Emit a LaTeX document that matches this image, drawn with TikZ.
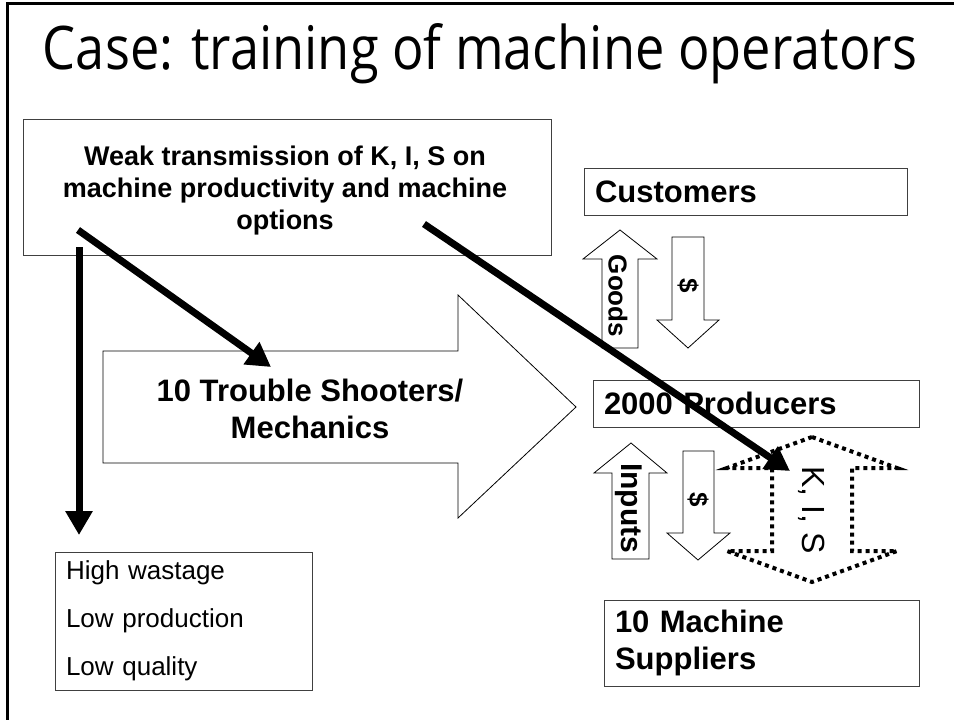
\documentclass[tikz,border=0pt]{standalone}
\usepackage{fontspec}
\setmainfont{Liberation Sans}
\newfontfamily\titlefont{Open Sans}
\usetikzlibrary{arrows.meta}
\begin{document}
\begin{tikzpicture}[x=1pt,y=-1pt,
  box/.style={draw=black!75, line width=1pt, fill=white, inner ysep=0pt},
  blk/.style={draw=black, line width=0.8pt, fill=white, line join=miter},
  bigarrow/.style={line width=7pt, -{Triangle[length=24pt,width=26pt]}},
  lbl/.style={font=\fontsize{31}{37}\selectfont\bfseries},
  rot/.style={rotate=-90, inner sep=0pt},
  kis/.style={draw=black, line width=4pt, dash pattern=on 4pt off 4pt}
]
\useasboundingbox (0,0) rectangle (954,720);
\fill[white] (0,0) rectangle (954,720);
% slide frame
\draw[line width=3pt] (7,720) -- (7,3) -- (954,3);

% title
\node[anchor=base, inner sep=0pt] (title) at (480,70)
  {\titlefont\fontsize{48}{48}\selectfont\resizebox{874pt}{46pt}{Case: training of machine operators}};

% top box
\node[box, minimum width=528pt, minimum height=136pt, align=center,
      font=\fontsize{27}{32}\selectfont\bfseries] (weak) at (287,187) {};
\node[align=center, font=\fontsize{27}{32}\selectfont\bfseries] (weakt) at (285,191)
  {Weak transmission of K, I, S on\\machine productivity and machine\\options};

% customers
\node[box, minimum height=47pt, inner xsep=11pt, text width=301pt, align=left, lbl] (cust) at (745.5,191.5) {Customers};

% goods arrow (up)
\draw[blk] (620,230) -- (657,259) -- (638,259) -- (638,348) -- (602,348) -- (602,259) -- (583,259) -- cycle;
\node[rot, font=\fontsize{26}{26}\selectfont\bfseries] (goods) at (618,296) {Goods};
% $ arrow (down)
\draw[blk] (672,237) -- (704,237) -- (704,320) -- (719,320) -- (688,348) -- (657,320) -- (672,320) -- cycle;
\node[rot, font=\fontsize{26}{26}\selectfont\bfseries] (d1) at (688,286) {\$};

% big arrow
\draw[blk] (103,351) -- (458,351) -- (458,295) -- (576,407) -- (458,518) -- (458,463) -- (103,463) -- cycle;
\node[align=center, lbl] (tsm) at (310,409) {10 Trouble Shooters/\\Mechanics};

% producers
\node[box, minimum height=47pt, inner xsep=11pt, text width=304pt, align=left, lbl] (prod) at (756,403.5) {2000 Producers};

% inputs arrow (up)
\draw[blk] (631,443) -- (667,473) -- (649,473) -- (649,559) -- (612,559) -- (612,473) -- (594,473) -- cycle;
\node[rot, font=\fontsize{30}{30}\selectfont\bfseries] (inp) at (629,508) {Inputs};
% $ arrow 2 (down)
\draw[blk] (683,451) -- (714,451) -- (714,533) -- (730,533) -- (698,560) -- (667,533) -- (683,533) -- cycle;
\node[rot, font=\fontsize{26}{26}\selectfont\bfseries] (d2) at (698,500) {\$};

% K,I,S dotted double arrow
\draw[kis] (812,437) -- (897,468) -- (852,468) -- (852,551) -- (897,551) -- (812,582) -- (727,551) -- (772,551) -- (772,468) -- (727,468) -- cycle;
\node[rot, font=\fontsize{32}{32}\selectfont] (kist) at (812,510) {K, I, S};

% suppliers
\node[box, minimum height=86pt, inner xsep=11pt, text width=293pt, align=left, lbl] (sup) at (761.5,643) {10 Machine\\Suppliers};

% results box
\node[box, minimum height=138pt, inner xsep=11pt, text width=235pt, align=left,
      font=\fontsize{26}{48}\selectfont] (res) at (183.5,621) {High wastage\\Low production\\Low quality};

% thick connectors
\coordinate (a1s) at (79,247);
\coordinate (a1e) at (79,535);
\coordinate (a2s) at (78,230);
\coordinate (a2e) at (271,367);
\coordinate (a3s) at (424,224);
\coordinate (a3e) at (790,471);
\draw[bigarrow] (a1s) -- (a1e);
\draw[bigarrow] (a2s) -- (a2e);
\draw[bigarrow] (a3s) -- (a3e);
\end{tikzpicture}
\end{document}
